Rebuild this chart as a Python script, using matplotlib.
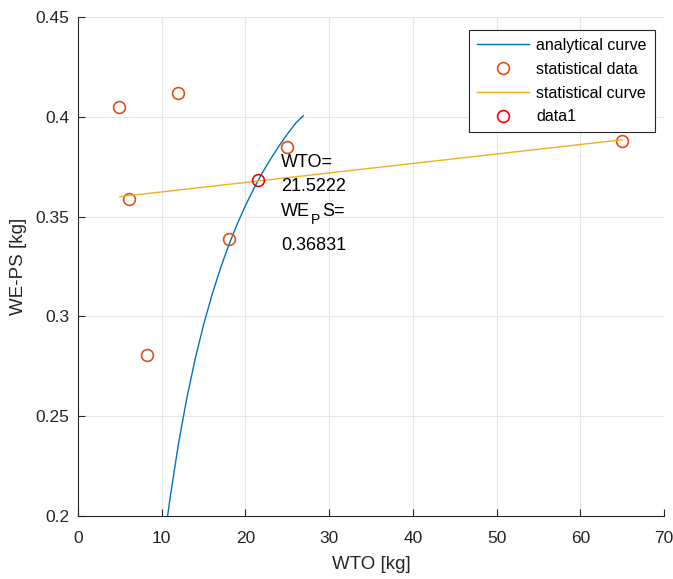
import matplotlib
matplotlib.use("Agg")
import matplotlib.pyplot as plt

# analytical curve
ana_x = [10.7, 11, 12, 13, 14, 15, 16, 17, 18, 19, 20, 21, 22, 23, 24, 25, 26, 26.9]
ana_y = [0.1999, 0.2090, 0.2362, 0.2591, 0.2788, 0.2958, 0.3107, 0.3239, 0.3356,
         0.3461, 0.3555, 0.3640, 0.3718, 0.3788, 0.3853, 0.3913, 0.3968, 0.4005]

# statistical data
stat_x = [4.9, 12.0, 6.1, 8.2, 18.0, 25.0, 65.0]
stat_y = [0.405, 0.412, 0.359, 0.2805, 0.339, 0.385, 0.388]

# statistical curve
sc_x = [5, 65]
sc_y = [0.3600, 0.3885]

# intersection
ix = [21.5222]
iy = [0.36831]

plt.rcParams['font.family'] = ['Liberation Sans', 'DejaVu Sans']
fig = plt.figure(figsize=(6.73, 5.79), dpi=100)
ax = fig.add_axes([0.1159, 0.1088, 0.8707, 0.8618])

blue = '#0072BD'
orange = '#D95319'
yellow = '#EDB120'
dark = '#262626'

ax.plot(ana_x, ana_y, color=blue, lw=1.0, label='analytical curve')
ax.plot(stat_x, stat_y, 'o', mfc='none', mec=orange, ms=8.5, mew=1.2, label='statistical data')
ax.plot(sc_x, sc_y, color=yellow, lw=1.0, label='statistical curve')
ax.plot(ix, iy, 'o', mfc='none', mec='red', ms=8.5, mew=1.2, label='data1')

ax.set_xlim(0, 70)
ax.set_ylim(0.2, 0.45)
ax.set_xticks(range(0, 71, 10))
ax.set_yticks([0.2, 0.25, 0.3, 0.35, 0.4, 0.45])
ax.set_yticklabels(['0.2', '0.25', '0.3', '0.35', '0.4', '0.45'])
ax.grid(True, color='#e6e6e6', lw=0.8)
ax.set_axisbelow(True)
for s in ['top', 'right']:
    ax.spines[s].set_visible(False)
for s in ['left', 'bottom']:
    ax.spines[s].set_color(dark)
ax.tick_params(direction='in', length=5, colors=dark, labelsize=12.5)
ax.tick_params(axis='x', pad=11)
ax.tick_params(axis='y', pad=6)

ax.set_xlabel('WTO [kg]', fontsize=13.5, color=dark, labelpad=7)
ax.set_ylabel('WE-PS [kg]', fontsize=13.5, color=dark, labelpad=6)

tx = 24.25
ax.text(tx, 0.377, 'WTO=', fontsize=13, va='center', ha='left', color='black')
ax.text(tx, 0.365, '21.5222', fontsize=13, va='center', ha='left', color='black')
ax.text(tx, 0.3525, 'WE', fontsize=13, va='center', ha='left', color='black')
ax.annotate('P', xy=(tx, 0.3525), xytext=(30, -8), textcoords='offset pixels',
            fontsize=10, va='center', ha='left', color='black')
ax.annotate('S=', xy=(tx, 0.3525), xytext=(41, 0), textcoords='offset pixels',
            fontsize=13, va='center', ha='left', color='black')
ax.text(tx, 0.3355, '0.36831', fontsize=13, va='center', ha='left', color='black')

leg = ax.legend(loc='upper right', bbox_to_anchor=(0.9846, 0.974), fontsize=11.5,
                frameon=True, fancybox=False, edgecolor=dark, framealpha=1,
                handlelength=3.3, borderpad=0.5, labelspacing=0.55, handletextpad=0.45,
                borderaxespad=0.0)
leg.get_frame().set_linewidth(0.8)

fig.savefig('out.png', dpi=100)
